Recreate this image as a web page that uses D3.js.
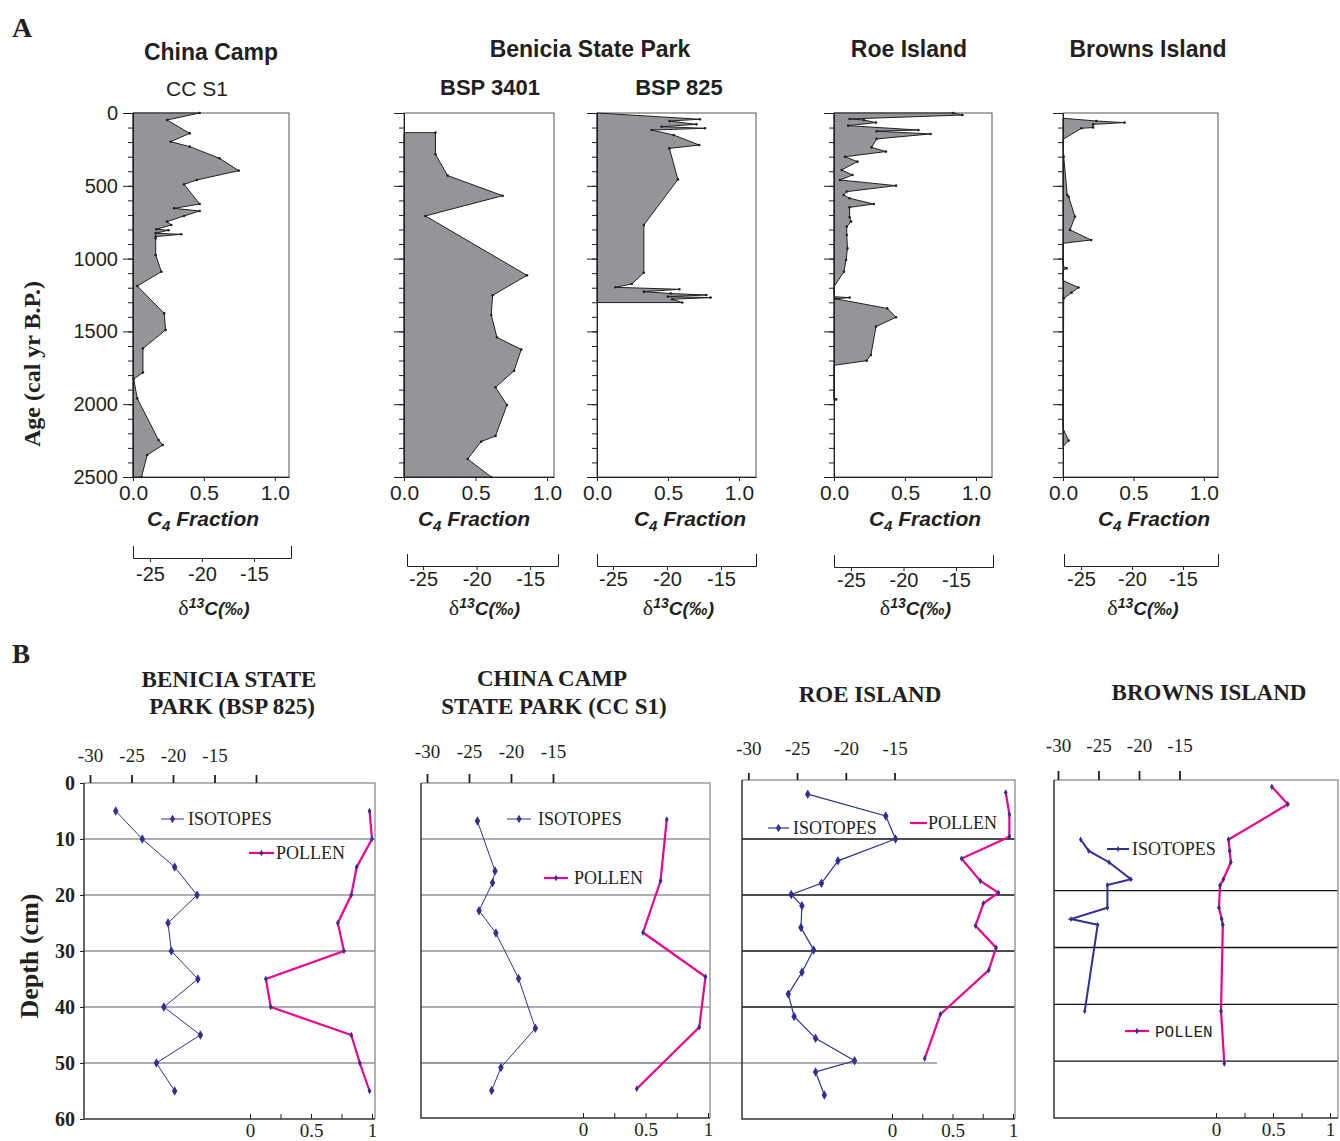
<!DOCTYPE html>
<html>
<head>
<meta charset="utf-8">
<script src="https://cdn.jsdelivr.net/npm/d3@7"></script>
<style>
  body { margin: 0; background: #fff; }
  svg { display: block; }
</style>
</head>
<body>
<script>
// ---------- panel A: C4 fraction vs age (cal yr B.P.) ----------
const ageTicks = [0, 500, 1000, 1500, 2000, 2500];
const c4Ticks = [0, 0.5, 1.0];
const d13Ticks = [-25, -20, -15];

const ccAge = [0, 48, 140, 197, 231, 311, 396, 460, 490, 625, 655, 673, 707, 746, 769, 799, 805, 826, 833, 849, 861, 975, 1090, 1188, 1376, 1490, 1617, 1783, 1827, 1960, 2246, 2280, 2349, 2500];
const ccC4 = [0.47, 0.24, 0.40, 0.265, 0.40, 0.61, 0.745, 0.45, 0.36, 0.47, 0.29, 0.47, 0.36, 0.24, 0.27, 0.165, 0.25, 0.16, 0.34, 0.16, 0.16, 0.16, 0.20, 0.03, 0.22, 0.23, 0.07, 0.07, 0.005, 0.03, 0.18, 0.21, 0.10, 0.06];

const bsp3401Age = [135, 283, 430, 568, 707, 1115, 1252, 1387, 1541, 1624, 1770, 1884, 2005, 2218, 2257, 2376, 2500];
const bsp3401C4 = [0.22, 0.22, 0.305, 0.69, 0.15, 0.86, 0.62, 0.61, 0.65, 0.82, 0.77, 0.64, 0.72, 0.64, 0.54, 0.445, 0.61];

const bsp825Age = [0, 43, 55, 78, 94, 105, 117, 151, 220, 243, 456, 769, 1097, 1174, 1197, 1211, 1227, 1240, 1250, 1261, 1268, 1279, 1302, 1302];
const bsp825C4 = [0, 0.725, 0.51, 0.70, 0.455, 0.76, 0.385, 0.54, 0.72, 0.51, 0.57, 0.33, 0.33, 0.245, 0.13, 0.58, 0.33, 0.52, 0.77, 0.50, 0.80, 0.53, 0.60, 0];

const roeAge = [0, 14, 41, 48, 66, 87, 117, 125, 144, 178, 236, 265, 300, 334, 391, 426, 460, 499, 540, 563, 586, 625, 648, 716, 746, 780, 838, 930, 1010, 1090, 1193, 1262, 1268, 1276, 1342, 1403, 1467, 1662, 1701, 1733, 1960, 1967, 1975];
const roeC4 = [0.84, 0.905, 0.11, 0.21, 0.295, 0.10, 0.595, 0.30, 0.68, 0.30, 0.265, 0.365, 0.077, 0.165, 0.054, 0.13, 0.042, 0.437, 0.09, 0.068, 0.11, 0.28, 0.11, 0.11, 0.12, 0.09, 0.09, 0.095, 0.085, 0.07, 0, 0, 0.11, 0.01, 0.375, 0.437, 0.296, 0.26, 0.23, 0, 0, 0.015, 0];

const brownsAge = [36, 55, 66, 78, 100, 105, 181, 300, 563, 575, 712, 803, 872, 895, 1050, 1067, 1080, 1151, 1199, 1234, 1273, 2166, 2250, 2292];
const brownsC4 = [0, 0.237, 0.437, 0.214, 0.214, 0.13, 0, 0.005, 0.03, 0.04, 0.085, 0.05, 0.20, 0, 0, 0.025, 0, 0, 0.11, 0.06, 0.005, 0, 0.04, 0];

// ---------- panel B: d13C isotopes and pollen vs depth ----------
const depthTicks = [0, 10, 20, 30, 40, 50, 60];
const isoTicks = [-30, -25, -20, -15];
const polTicks = [0, 0.5, 1];

const bspIsoDepth = [5, 10, 15, 20, 25, 30, 35, 40, 45, 50, 55];
const bspIso = [-26.9, -23.7, -19.8, -17.1, -20.6, -20.2, -17.0, -21.1, -16.7, -22.0, -19.8];
const bspPolDepth = [5, 10, 15, 20, 25, 30, 35, 40, 45, 50, 55];
const bspPol = [0.98, 1.0, 0.875, 0.83, 0.72, 0.77, 0.13, 0.17, 0.83, 0.90, 0.98];

const ccIsoDepth = [6.8, 15.7, 17.8, 22.8, 26.8, 34.9, 43.8, 50.8, 54.9];
const ccIso = [-24.0, -21.9, -22.2, -23.8, -21.8, -19.1, -17.1, -21.2, -22.3];
const ccPolDepth = [6.5, 17.5, 26.7, 34.6, 43.6, 54.6];
const ccPol = [0.67, 0.62, 0.48, 0.98, 0.93, 0.43];

const roeIsoDepth = [2.0, 5.9, 10.0, 13.9, 17.9, 19.9, 21.9, 25.8, 29.8, 33.8, 37.7, 41.7, 45.6, 49.6, 51.6, 55.7];
const roeIso = [-23.9, -15.9, -14.9, -20.8, -22.5, -25.6, -24.5, -24.6, -23.3, -24.5, -25.9, -25.3, -23.1, -19.1, -23.1, -22.2];
const roePolDepth = [1.7, 5.6, 9.6, 13.5, 17.5, 19.6, 21.5, 25.5, 29.4, 33.4, 41.3, 49.2];
const roePol = [0.94, 0.97, 0.97, 0.575, 0.73, 0.88, 0.755, 0.69, 0.86, 0.80, 0.40, 0.27];

const brIsoDepth = [11, 13, 15, 18, 19, 23, 25, 26, 41.2];
const brIso = [-27.2, -26.2, -23.7, -21.0, -23.9, -23.9, -28.4, -25.1, -26.7];
const brPolDepth = [1.7, 4.8, 11, 13, 15, 18, 19.1, 23, 25, 26, 41.2, 50.4];
const brPol = [0.49, 0.63, 0.11, 0.12, 0.13, 0.065, 0.035, 0.026, 0.05, 0.06, 0.044, 0.073];

const sans = '"Liberation Sans", Arial, sans-serif';
const serif = '"Liberation Serif", "Times New Roman", serif';
const ink = '#231f20';
const navy = '#2e3192';
const pink = '#ec008c';

const svg = d3.select('body').append('svg')
  .attr('width', 1340)
  .attr('height', 1141);

const text = (x, y, str, size, opts = {}) => svg.append('text')
  .attr('x', x).attr('y', y)
  .attr('text-anchor', opts.anchor || 'middle')
  .attr('font-family', opts.family || sans)
  .attr('font-weight', opts.weight || 'normal')
  .attr('font-style', opts.style || 'normal')
  .attr('font-size', size)
  .attr('fill', opts.fill || ink)
  .text(str);

// ================= PANEL A =================
text(12, 37, 'A', 28, {anchor: 'start', family: serif, weight: 'bold'});
text(211, 60, 'China Camp', 23, {weight: 'bold'});
text(197, 96, 'CC S1', 21);
text(590, 57, 'Benicia State Park', 23, {weight: 'bold'});
text(490, 95, 'BSP 3401', 22, {weight: 'bold'});
text(679, 95, 'BSP 825', 22, {weight: 'bold'});
text(909, 57, 'Roe Island', 23, {weight: 'bold'});
text(1148, 57, 'Browns Island', 23, {weight: 'bold'});

svg.append('text')
  .attr('transform', 'translate(40,364) rotate(-90)')
  .attr('text-anchor', 'middle')
  .attr('font-family', serif).attr('font-weight', 'bold').attr('font-size', 24)
  .attr('fill', ink)
  .text('Age (cal yr B.P.)');

const aTop = 113, aBottom = 477;
const panelsA = [
  {age: ccAge, c4: ccC4, left: 133, right: 289, xMax: 1.1, dLeft: 133, dRight: 291, dMin: -26.63, dMax: -11.44, bracketY: 558, labels: true, fracX: 203},
  {age: bsp3401Age, c4: bsp3401C4, left: 404, right: 554, xMax: 1.049, dLeft: 407, dRight: 558, dMin: -26.5, dMax: -12.4, bracketY: 566, labels: false, fracX: 474},
  {age: bsp825Age, c4: bsp825C4, left: 597, right: 756, xMax: 1.12, dLeft: 597, dRight: 756, dMin: -26.48, dMax: -11.76, bracketY: 566, labels: false, fracX: 690},
  {age: roeAge, c4: roeC4, left: 834, right: 992, xMax: 1.113, dLeft: 834, dRight: 993, dMin: -26.62, dMax: -11.48, bracketY: 567, labels: false, fracX: 925},
  {age: brownsAge, c4: brownsC4, left: 1063, right: 1218, xMax: 1.10, dLeft: 1064, dRight: 1218, dMin: -26.67, dMax: -11.57, bracketY: 566, labels: false, fracX: 1154}
];

const styleAxis = (sel, size, family) => {
  sel.selectAll('text').attr('font-size', size).attr('font-family', family || sans).attr('fill', ink);
  sel.selectAll('line,path').attr('stroke', ink);
};

panelsA.forEach(p => {
  const y = d3.scaleLinear().domain([0, 2500]).range([aTop, aBottom]);
  const x = d3.scaleLinear().domain([0, p.xMax]).range([p.left, p.right]);
  const g = svg.append('g');

  g.append('rect')
    .attr('x', p.left).attr('y', aTop)
    .attr('width', p.right - p.left).attr('height', aBottom - aTop)
    .attr('fill', 'none').attr('stroke', '#555').attr('stroke-width', 1);

  const pts = p.age.map((a, i) => [a, p.c4[i]]);
  const area = d3.area()
    .x0(x(0))
    .x1(d => x(d[1]))
    .y(d => y(d[0]));
  g.append('path').datum(pts)
    .attr('d', area)
    .attr('fill', '#939598')
    .attr('stroke', ink)
    .attr('stroke-width', 1)
    .attr('stroke-linejoin', 'round');
  g.selectAll('circle').data(pts.filter(d => d[1] > 0)).join('circle')
    .attr('cx', d => x(d[1])).attr('cy', d => y(d[0]))
    .attr('r', 1.3).attr('fill', ink);

  // minor age ticks
  g.append('g').attr('transform', `translate(${p.left},0)`)
    .call(d3.axisLeft(y).tickValues(d3.range(0, 2501, 100)).tickSize(5).tickFormat(''))
    .call(s => s.select('.domain').remove())
    .call(s => styleAxis(s, 20));
  // major age ticks
  g.append('g').attr('transform', `translate(${p.left},0)`)
    .call(d3.axisLeft(y).tickValues(ageTicks).tickSize(10).tickSizeOuter(0).tickPadding(5)
      .tickFormat(p.labels ? d => d : ''))
    .call(s => styleAxis(s, 20));

  // C4 fraction axis
  g.append('g').attr('transform', `translate(0,${aBottom})`)
    .call(d3.axisBottom(x).tickValues(c4Ticks).tickSize(4).tickSizeOuter(0).tickPadding(4)
      .tickFormat(d3.format('.1f')))
    .call(s => styleAxis(s, 21));

  const fr = g.append('text')
    .attr('x', p.fracX).attr('y', 526)
    .attr('text-anchor', 'middle')
    .attr('font-family', sans).attr('font-weight', 'bold').attr('font-style', 'italic')
    .attr('font-size', 21).attr('fill', ink);
  fr.append('tspan').text('C');
  fr.append('tspan').attr('font-size', 15).attr('dy', 5).text('4');
  fr.append('tspan').attr('dy', -5).text(' Fraction');

  // d13C bracket axis
  const d = d3.scaleLinear().domain([p.dMin, p.dMax]).range([p.dLeft, p.dRight]);
  g.append('g').attr('transform', `translate(0,${p.bracketY})`)
    .call(d3.axisBottom(d).tickValues(d13Ticks).tickSize(4).tickSizeOuter(-12).tickPadding(p.labels ? 5 : 2)
      .tickFormat(v => String(v)))
    .call(s => styleAxis(s, 20));

  const dl = g.append('text')
    .attr('x', (p.dLeft + p.dRight) / 2 + 2).attr('y', 615)
    .attr('text-anchor', 'middle')
    .attr('font-family', sans).attr('font-size', 19).attr('fill', ink);
  dl.append('tspan').attr('font-family', serif).attr('font-size', 22).text('δ');
  dl.append('tspan').attr('font-weight', 'bold').attr('font-style', 'italic').attr('font-size', 14).attr('dy', -7).text('13');
  dl.append('tspan').attr('font-weight', 'bold').attr('font-style', 'italic').attr('dy', 7).text('C(‰)');
});

// ================= PANEL B =================
text(12, 663, 'B', 27, {anchor: 'start', family: serif, weight: 'bold'});
text(229, 687, 'BENICIA STATE', 23, {family: serif, weight: 'bold'});
text(232, 714, 'PARK (BSP 825)', 23, {family: serif, weight: 'bold'});
text(552, 686, 'CHINA CAMP', 23, {family: serif, weight: 'bold'});
text(554, 714, 'STATE PARK (CC S1)', 23, {family: serif, weight: 'bold'});
text(870, 702, 'ROE ISLAND', 23, {family: serif, weight: 'bold'});
text(1209, 700, 'BROWNS ISLAND', 23, {family: serif, weight: 'bold'});

svg.append('text')
  .attr('transform', 'translate(38,956) rotate(-90)')
  .attr('text-anchor', 'middle')
  .attr('font-family', serif).attr('font-weight', 'bold').attr('font-size', 26)
  .attr('fill', ink)
  .text('Depth (cm)');

const panelsB = [
  {isoD: bspIsoDepth, iso: bspIso, polD: bspPolDepth, pol: bspPol,
   left: 84, right: 375, top: 783, bottom: 1119, y0: 783, y60: 1119,
   iso30: 90, isoStep: 8.3, pol0: 250, pol1: 372, tickLen: 8, isoLabelY: 762, extraIsoTick: -10,
   grid: [10, 20, 30, 40, 50], gridColor: '#8e959e', isoW: 1, depthLabels: true,
   isoLeg: {x1: 161, x2: 184, y: 819, tx: 188}, polLeg: {x1: 249, x2: 274, y: 853, tx: 276, marker: true}},
  {isoD: ccIsoDepth, iso: ccIso, polD: ccPolDepth, pol: ccPol,
   left: 421, right: 710, top: 783, bottom: 1118, y0: 783, y60: 1119,
   iso30: 427, isoStep: 8.4, pol0: 583, pol1: 708, tickLen: 9, isoLabelY: 758,
   grid: [10, 20, 30, 40, 50], gridColor: '#8e959e', isoW: 1, ext50: 937,
   isoLeg: {x1: 507, x2: 531, y: 819, tx: 538}, polLeg: {x1: 544, x2: 568, y: 878, tx: 574, marker: true}},
  {isoD: roeIsoDepth, iso: roeIso, polD: roePolDepth, pol: roePol,
   left: 742, right: 1015, top: 780, bottom: 1119, y0: 783, y60: 1119,
   iso30: 748.3, isoStep: 9.75, pol0: 892, pol1: 1013, tickLen: 7, isoLabelY: 755,
   grid: [10, 20, 30, 40], gridColor: '#111', isoW: 1.2,
   isoLeg: {x1: 768, x2: 789, y: 828, tx: 793}, polLeg: {x1: 910, x2: 927, y: 823, tx: 928, marker: false}},
  {isoD: brIsoDepth, iso: brIso, polD: brPolDepth, pol: brPol,
   left: 1054, right: 1338, top: 780, bottom: 1118, y0: 777, y60: 1118,
   iso30: 1058, isoStep: 8.1, pol0: 1216, pol1: 1330, tickLen: 9, isoLabelY: 752,
   grid: [20, 30, 40, 50], gridColor: '#111', isoW: 2,
   isoLeg: {x1: 1107, x2: 1129, y: 849, tx: 1132}, polLeg: {x1: 1125, x2: 1149, y: 1031, tx: 1155, marker: true, mono: true}}
];

const diamond = d3.symbol().type(d3.symbolDiamond);

panelsB.forEach(p => {
  const y = d3.scaleLinear().domain([0, 60]).range([p.y0, p.y60]);
  const xi = d3.scaleLinear().domain([-30, -15]).range([p.iso30, p.iso30 + 15 * p.isoStep]);
  const xp = d3.scaleLinear().domain([0, 1]).range([p.pol0, p.pol1]);
  const g = svg.append('g');

  // gridlines
  g.selectAll('line.grid').data(p.grid).join('line')
    .attr('class', 'grid')
    .attr('x1', p.left).attr('x2', p.right)
    .attr('y1', d => y(d)).attr('y2', d => y(d))
    .attr('stroke', p.gridColor).attr('stroke-width', 1.3);
  if (p.ext50) {
    g.append('line')
      .attr('x1', p.left).attr('x2', p.ext50)
      .attr('y1', y(50)).attr('y2', y(50))
      .attr('stroke', p.gridColor).attr('stroke-width', 1.5);
  }

  // frame: gray top/right, dark left/bottom
  g.append('path')
    .attr('d', `M${p.left},${p.top}H${p.right}V${p.bottom}`)
    .attr('fill', 'none').attr('stroke', '#9a9a9a').attr('stroke-width', 1.5);
  g.append('path')
    .attr('d', `M${p.left},${p.top}V${p.bottom}H${p.right}`)
    .attr('fill', 'none').attr('stroke', '#333').attr('stroke-width', 1.5);

  // isotope axis on top
  const isoVals = p.extraIsoTick ? isoTicks.concat([p.extraIsoTick]) : isoTicks;
  g.append('g').attr('transform', `translate(0,${p.top})`)
    .call(d3.axisTop(xi).tickValues(isoVals).tickSize(p.tickLen)
      .tickPadding(p.top - p.tickLen - p.isoLabelY).tickFormat(v => isoTicks.includes(v) ? String(v) : ''))
    .call(s => s.select('.domain').remove())
    .call(s => styleAxis(s, 19, serif))
    .call(s => s.selectAll('line').attr('stroke-width', 1.8));

  // pollen axis on bottom
  g.append('g').attr('transform', `translate(0,${p.bottom})`)
    .call(d3.axisBottom(xp).tickValues([0, 0.25, 0.5, 0.75, 1]).tickSize(-5).tickPadding(5)
      .tickFormat(v => polTicks.includes(v) ? String(v) : ''))
    .call(s => s.select('.domain').remove())
    .call(s => styleAxis(s, 19, serif));

  if (p.depthLabels) {
    g.append('g').attr('transform', `translate(${p.left},0)`)
      .call(d3.axisLeft(y).tickValues(depthTicks).tickSize(4).tickPadding(5))
      .call(s => s.select('.domain').remove())
      .call(s => styleAxis(s, 20, serif))
      .call(s => s.selectAll('text').attr('font-weight', 'bold'));
  }

  // isotopes
  const isoPts = p.isoD.map((dd, i) => [p.iso[i], dd]);
  g.append('path').datum(isoPts)
    .attr('d', d3.line().x(d => xi(d[0])).y(d => y(d[1])))
    .attr('fill', 'none').attr('stroke', navy).attr('stroke-width', p.isoW);
  g.selectAll('path.isoMk').data(isoPts).join('path')
    .attr('class', 'isoMk')
    .attr('transform', d => `translate(${xi(d[0])},${y(d[1])})`)
    .attr('d', diamond.size(p.isoW > 1.5 ? 10 : 26)())
    .attr('fill', navy);

  // pollen
  const polPts = p.polD.map((dd, i) => [p.pol[i], dd]);
  g.append('path').datum(polPts)
    .attr('d', d3.line().x(d => xp(d[0])).y(d => y(d[1])))
    .attr('fill', 'none').attr('stroke', pink).attr('stroke-width', 2.2);
  g.selectAll('path.polMk').data(polPts).join('path')
    .attr('class', 'polMk')
    .attr('transform', d => `translate(${xp(d[0])},${y(d[1])})`)
    .attr('d', diamond.size(12)())
    .attr('fill', navy);

  // legends
  const il = p.isoLeg;
  g.append('line').attr('x1', il.x1).attr('x2', il.x2).attr('y1', il.y).attr('y2', il.y)
    .attr('stroke', navy).attr('stroke-width', p.isoW);
  g.append('path').attr('transform', `translate(${(il.x1 + il.x2) / 2},${il.y})`)
    .attr('d', diamond.size(p.isoW > 1.5 ? 10 : 22)()).attr('fill', navy);
  g.append('text').attr('x', il.tx).attr('y', il.y).attr('dy', '0.35em')
    .attr('font-family', serif).attr('font-size', 18).attr('fill', ink).text('ISOTOPES');

  const pl = p.polLeg;
  g.append('line').attr('x1', pl.x1).attr('x2', pl.x2).attr('y1', pl.y).attr('y2', pl.y)
    .attr('stroke', pink).attr('stroke-width', 2.2);
  if (pl.marker) {
    g.append('path').attr('transform', `translate(${(pl.x1 + pl.x2) / 2},${pl.y})`)
      .attr('d', diamond.size(12)()).attr('fill', navy);
  }
  g.append('text').attr('x', pl.tx).attr('y', pl.y).attr('dy', '0.35em')
    .attr('font-family', pl.mono ? '"Liberation Mono", "Courier New", monospace' : serif)
    .attr('font-size', pl.mono ? 16 : 18).attr('fill', ink).text('POLLEN');
});
</script>
</body>
</html>
